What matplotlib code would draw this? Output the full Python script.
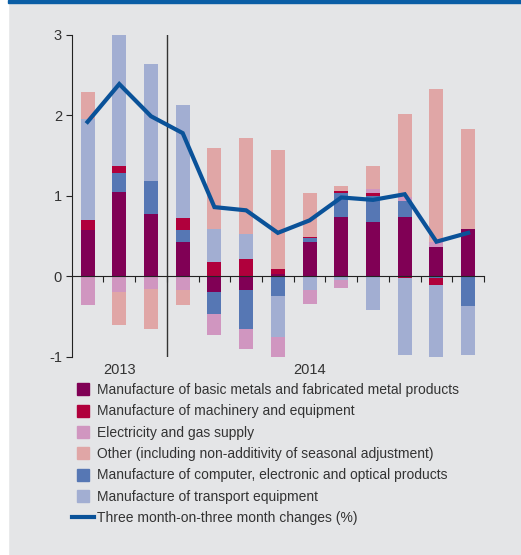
import numpy as np
import matplotlib
matplotlib.use('Agg')
import matplotlib.pyplot as plt
from matplotlib.lines import Line2D
from matplotlib.patches import Rectangle

plt.rcParams['font.family'] = ['Liberation Sans', 'DejaVu Sans']

# 13 three-month periods, 2013 (3 bars) and 2014 (10 bars)
periods = np.arange(13)
years = ['2013', '2014']
year_pos = [1, 7]

basic_metals = [0.57, 1.05, 0.78, 0.42, -0.19, -0.17, 0.03, 0.42, 0.74, 0.67, 0.74, 0.36, 0.59]
computer = [-0.01, 0.24, 0.40, 0.15, -0.285, -0.48, -0.24, 0.05, 0.29, 0.33, 0.19, -0.025, -0.375]
machinery = [0.13, 0.08, 0.0, 0.15, 0.18, 0.21, 0.065, 0.02, 0.035, 0.04, -0.025, -0.085, 0.0]
transport = [1.25, 1.625, 1.455, 1.41, 0.41, 0.32, -0.52, -0.165, -0.05, -0.42, -0.95, -0.89, -0.605]
electricity = [-0.35, -0.20, -0.153, -0.165, -0.25, -0.25, -0.24, -0.175, -0.10, 0.04, 0.06, 0.07, 0.0]
other = [0.34, -0.41, -0.50, -0.195, 1.0, 1.19, 1.475, 0.54, 0.06, 0.295, 1.03, 1.90, 1.24]
three_month = [1.92, 2.39, 1.99, 1.78, 0.86, 0.82, 0.54, 0.695, 0.98, 0.95, 1.02, 0.43, 0.54]

labels = {
    'basic': 'Manufacture of basic metals and fabricated metal products',
    'machinery': 'Manufacture of machinery and equipment',
    'electricity': 'Electricity and gas supply',
    'other': 'Other (including non-additivity of seasonal adjustment)',
    'computer': 'Manufacture of computer, electronic and optical products',
    'transport': 'Manufacture of transport equipment',
    'line': 'Three month-on-three month changes (%)',
}
colors = {
    'basic': '#800055',
    'machinery': '#b0003c',
    'electricity': '#d096c0',
    'other': '#e0a6a6',
    'computer': '#5677b4',
    'transport': '#a2aed2',
    'line': '#0a5299',
}
series = {
    'basic': basic_metals, 'computer': computer, 'machinery': machinery,
    'transport': transport, 'electricity': electricity, 'other': other,
}
stack_order = ['basic', 'computer', 'machinery', 'transport', 'electricity', 'other']
legend_order = ['basic', 'machinery', 'electricity', 'other', 'computer', 'transport']

bg = '#e4e5e7'
txt = '#333333'

fig = plt.figure(figsize=(5.21, 5.55), dpi=100)
fig.patch.set_facecolor(bg)
# white strip on the left and blue band at the top
fig.patches.append(Rectangle((0, 0), 8 / 521, 1, transform=fig.transFigure, color='white', zorder=0))
fig.patches.append(Rectangle((8 / 521, 1 - 3 / 555), 1, 3 / 555, transform=fig.transFigure,
                             color='#0a5ea6', zorder=0))

ax = fig.add_axes([71.7 / 521, 1 - 356.7 / 555, (484 - 71.7) / 521, (356.7 - 35) / 555])
ax.set_facecolor(bg)

pos_bottom = np.zeros(13)
neg_bottom = np.zeros(13)
for key in stack_order:
    vals = np.array(series[key])
    pos = np.where(vals > 0, vals, 0)
    neg = np.where(vals < 0, vals, 0)
    ax.bar(periods, pos, 0.44, bottom=pos_bottom, color=colors[key], zorder=2)
    ax.bar(periods, neg, 0.44, bottom=neg_bottom, color=colors[key], zorder=2)
    pos_bottom += pos
    neg_bottom += neg

ax.plot(periods, three_month, color=colors['line'], lw=3, zorder=4, solid_joinstyle='miter')

ax.set_xlim(-0.5, 12.5)
ax.set_ylim(-1, 3)
ax.axvline(2.5, color='#333333', lw=1, zorder=3)

for s in ['top', 'right']:
    ax.spines[s].set_visible(False)
ax.spines['left'].set_color('#222222')
ax.spines['bottom'].set_position(('data', 0))
ax.spines['bottom'].set_color('#222222')
ax.spines['bottom'].set_zorder(3)

ax.set_yticks([-1, 0, 1, 2, 3])
ax.set_yticklabels(['-1', '0', '1', '2', '3'])
ax.set_xticks(np.arange(0.5, 13, 1))
ax.set_xticklabels([])
ax.tick_params(axis='y', direction='out', length=4, color='#222222', labelsize=10.5,
               labelcolor=txt, pad=3)
ax.tick_params(axis='x', direction='out', length=4, color='#222222')

for yr, xp in zip(years, year_pos):
    ax.text(xp, -1.16, yr, ha='center', va='center', fontsize=10.5, color=txt, clip_on=False)

handles = []
names = []
for key in legend_order:
    handles.append(Line2D([], [], ls='none', marker='s', markersize=8, color=colors[key]))
    names.append(labels[key])
handles.append(Line2D([], [], color=colors['line'], lw=3))
names.append(labels['line'])

fig.legend(handles, names, loc='upper left', bbox_to_anchor=(71.5 / 521, 1 - 383 / 555),
           frameon=False, fontsize=10, labelcolor=txt, handlelength=1.6,
           handletextpad=0.25, labelspacing=0.53, borderpad=0, borderaxespad=0)

fig.savefig('out.png', dpi=100, facecolor=bg)
